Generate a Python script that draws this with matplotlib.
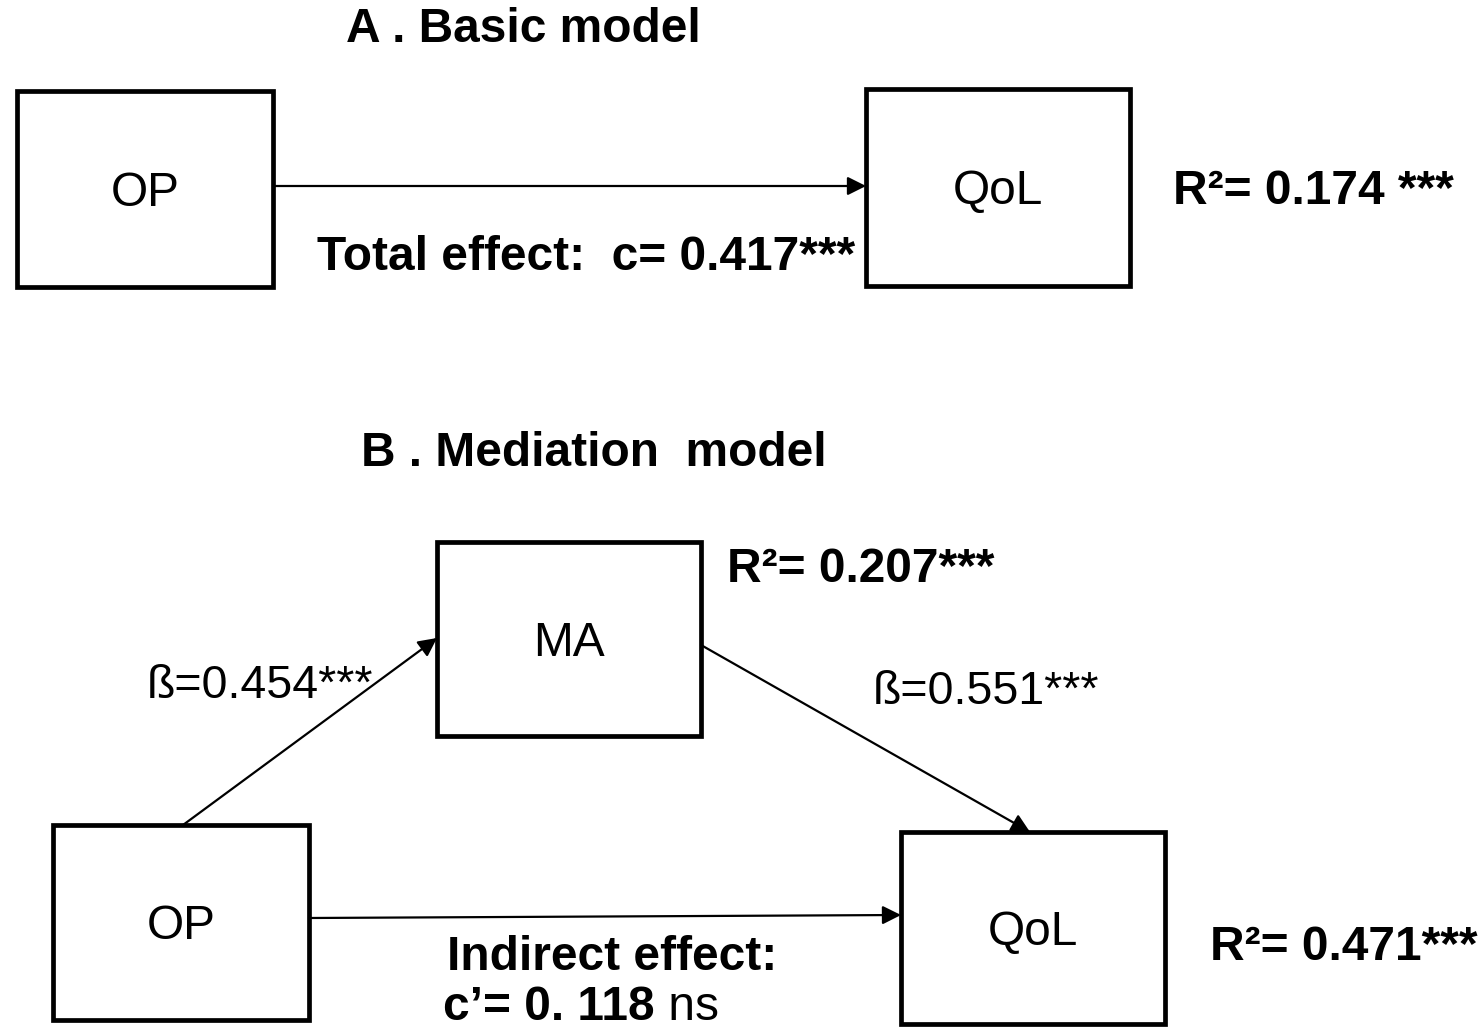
import matplotlib
matplotlib.use('Agg')
import matplotlib.pyplot as plt
from matplotlib.patches import Rectangle

plt.rcParams['font.family'] = ['Liberation Sans', 'DejaVu Sans']

# values shown in the diagram
panel_titles = ['A . Basic model', 'B . Mediation  model']
total_effect = 0.417
r2_basic = 0.174
beta_op_ma = 0.454
beta_ma_qol = 0.551
direct_effect = 0.118
r2_ma = 0.207
r2_qol = 0.471

FS = 34.5

fig = plt.figure(figsize=(14.81, 10.27), dpi=100)
ax = fig.add_axes([0, 0, 1, 1])
ax.set_xlim(0, 1481)
ax.set_ylim(1027, 0)
ax.axis('off')

def box(x0, y0, x1, y1, label):
    ax.add_patch(Rectangle((x0, y0), x1 - x0, y1 - y0, fill=False, lw=3.4, ec='black'))
    ax.text((x0 + x1) / 2, (y0 + y1) / 2 + 4, label, ha='center', va='center', fontsize=FS)

def arrow(p0, p1):
    ax.annotate('', xy=p1, xytext=p0,
                arrowprops=dict(arrowstyle='-|>', lw=1.6, color='black',
                                mutation_scale=28, shrinkA=0, shrinkB=0))

# ---- A. basic model
ax.text(523, 30, panel_titles[0], ha='center', va='center', fontsize=FS, fontweight='bold')
box(17, 91, 273, 287, 'OP')
box(866, 89, 1130, 286, 'QoL')
arrow((273, 186), (866, 186))
ax.text(586, 258, f'Total effect:  c= {total_effect:.3f}***', ha='center', va='center',
        fontsize=FS, fontweight='bold')
ax.text(1173, 192, f'R\u00b2= {r2_basic:.3f} ***', ha='left', va='center',
        fontsize=FS, fontweight='bold')

# ---- B. mediation model
ax.text(594, 453, panel_titles[1], ha='center', va='center', fontsize=FS, fontweight='bold')
box(437, 542, 701, 736, 'MA')
box(53, 825, 309, 1020, 'OP')
box(901, 832, 1165, 1024, 'QoL')
arrow((183, 825), (437, 638))
arrow((701, 645), (1030, 832))
arrow((309, 918), (901, 915))

ax.text(727, 569, f'R\u00b2= {r2_ma:.3f}***', ha='left', va='center',
        fontsize=FS, fontweight='bold')
ax.text(147, 686, f'\u00df={beta_op_ma:.3f}***', ha='left', va='center', fontsize=33.5)
ax.text(873, 692, f'\u00df={beta_ma_qol:.3f}***', ha='left', va='center', fontsize=33.5)
ax.text(612, 958, 'Indirect effect:', ha='center', va='center', fontsize=FS, fontweight='bold')
t = ax.text(443, 1007, f'c\u2019= {str(direct_effect).replace("0.", "0. ")}', ha='left', va='center',
            fontsize=FS, fontweight='bold')
ax.annotate(' ns', xycoords=t, xy=(1, 0.5), ha='left', va='center', fontsize=FS)
ax.text(1210, 947, f'R\u00b2= {r2_qol:.3f}***', ha='left', va='center',
        fontsize=FS, fontweight='bold')

fig.savefig('out.png', dpi=100, facecolor='white')
